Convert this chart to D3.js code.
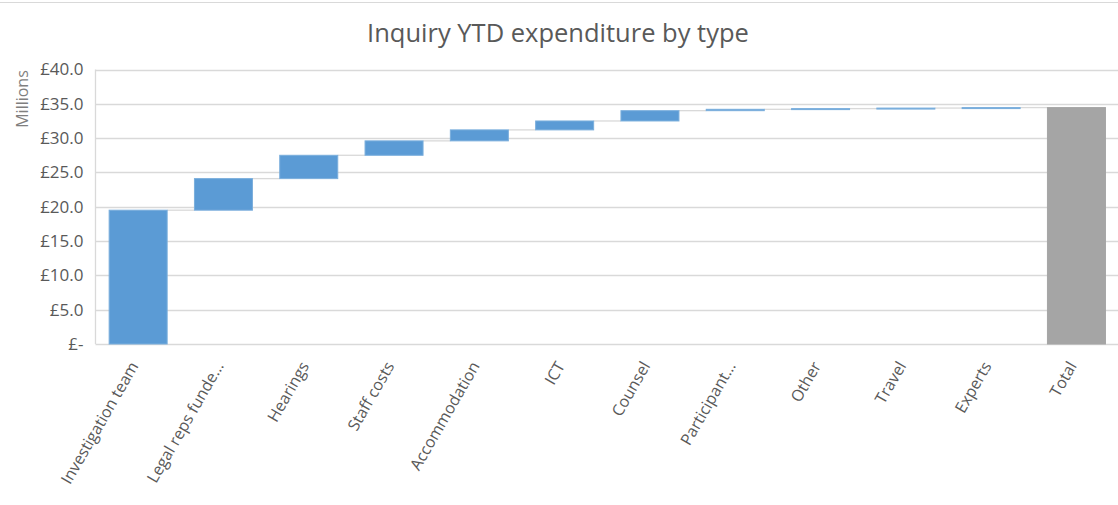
<!DOCTYPE html>
<html>
<head>
<meta charset="utf-8">
<script src="https://cdn.jsdelivr.net/npm/d3@7"></script>
<style>
  body { margin: 0; background: #fff; }
  text { font-family: "Open Sans", sans-serif; fill: #595959; }
</style>
</head>
<body>
<div id="chart"></div>
<script>
(function(){
	var width = 1118,
	    height = 505;

	// categories and step values (£ millions)
	var categories = ["Investigation team", "Legal reps funde\u2026", "Hearings", "Staff costs",
	  "Accommodation", "ICT", "Counsel", "Participant\u2026", "Other", "Travel", "Experts", "Total"];
	var amounts = [19.5, 4.6, 3.4, 2.1, 1.6, 1.3, 1.5, 0.2, 0.1, 0.08, 0.07];
	var yTicks = [0, 5, 10, 15, 20, 25, 30, 35, 40];

	var margin = {top: 69.5, left: 95.5, bottom: 161};
	var plotBottom = height - margin.bottom;

	// build the running totals for the waterfall
	var rows = [];
	var running = 0;
	amounts.forEach(function(v, i) {
		rows.push({name: categories[i], start: running, end: running + v, total: false});
		running += v;
	});
	rows.push({name: categories[categories.length - 1], start: 0, end: running, total: true});

	var svg = d3.select("#chart")
	  .append("svg")
	  .attr("width", width)
	  .attr("height", height);

	// chart border at the top
	svg.append("line")
	  .attr("x1", 0).attr("x2", width)
	  .attr("y1", 2.5).attr("y2", 2.5)
	  .attr("stroke", "#d9d9d9");

	var x = d3.scaleBand()
	  .domain(categories)
	  .range([margin.left, margin.left + 12 * 85.3])
	  .paddingInner(0.32)
	  .paddingOuter(0.16);

	var y = d3.scaleLinear()
	  .domain([0, 40])
	  .range([plotBottom, margin.top]);

	// gridlines
	svg.append("g")
	  .selectAll("line")
	  .data(yTicks)
	  .enter().append("line")
	  .attr("x1", margin.left)
	  .attr("x2", width)
	  .attr("y1", function(d) { return Math.round(y(d)) + 0.5 })
	  .attr("y2", function(d) { return Math.round(y(d)) + 0.5 })
	  .attr("stroke", "#d9d9d9")
	  .attr("stroke-width", 1.3);

	// left axis line
	svg.append("line")
	  .attr("x1", margin.left).attr("x2", margin.left)
	  .attr("y1", y(40)).attr("y2", y(0))
	  .attr("stroke", "#d9d9d9")
	  .attr("stroke-width", 1.3);

	// y tick labels
	var yAxis = svg.append("g")
	  .attr("transform", "translate(" + (margin.left - 12) + ",0)")
	  .call(d3.axisLeft(y)
	    .tickValues(yTicks)
	    .tickSize(0)
	    .tickPadding(0)
	    .tickFormat(function(d) { return d === 0 ? "\u00a3-" : "\u00a3" + d3.format(".1f")(d) }));
	yAxis.select(".domain").remove();
	yAxis.selectAll("text")
	  .attr("font-size", 17)
	  .attr("font-family", "Open Sans, sans-serif")
	  .attr("fill", "#595959");

	// axis title
	svg.append("text")
	  .attr("transform", "translate(28," + 99 + ") rotate(-90)")
	  .attr("text-anchor", "middle")
	  .attr("font-size", 16)
	  .style("fill", "#7f7f7f")
	  .text("Millions");

	// connector lines between steps
	svg.append("g")
	  .selectAll("line")
	  .data(rows.slice(0, rows.length - 1))
	  .enter().append("line")
	  .attr("x1", function(d) { return x(d.name) + x.bandwidth() })
	  .attr("x2", function(d, i) { return x(rows[i + 1].name) })
	  .attr("y1", function(d) { return y(d.end) })
	  .attr("y2", function(d) { return y(d.end) })
	  .attr("stroke", "#d9d9d9")
	  .attr("stroke-width", 1.3);

	// bars
	svg.append("g")
	  .selectAll("rect")
	  .data(rows)
	  .enter().append("rect")
	  .attr("x", function(d) { return x(d.name) })
	  .attr("width", x.bandwidth())
	  .attr("y", function(d) { return y(d.end) })
	  .attr("height", function(d) { return Math.max(y(d.start) - y(d.end), 1) })
	  .attr("fill", function(d) { return d.total ? "#a5a5a5" : "#5b9bd5" })
	  .attr("stroke", function(d) { return d.total ? "#a5a5a5" : "#7aaedc" })
	  .attr("stroke-width", 1);

	// category labels, rotated
	svg.append("g")
	  .selectAll("text")
	  .data(categories)
	  .enter().append("text")
	  .attr("transform", function(d) {
	  	return "translate(" + (x(d) + x.bandwidth() / 2 - 4) + "," + (plotBottom + 19) + ") rotate(-60)"
	  })
	  .attr("text-anchor", "end")
	  .attr("dy", "0.35em")
	  .attr("font-size", 16)
	  .text(function(d) { return d });

	// title
	svg.append("text")
	  .attr("x", 558)
	  .attr("y", 42)
	  .attr("text-anchor", "middle")
	  .attr("font-size", 25.5)
	  .text("Inquiry YTD expenditure by type");
})();
</script>
</body>
</html>
